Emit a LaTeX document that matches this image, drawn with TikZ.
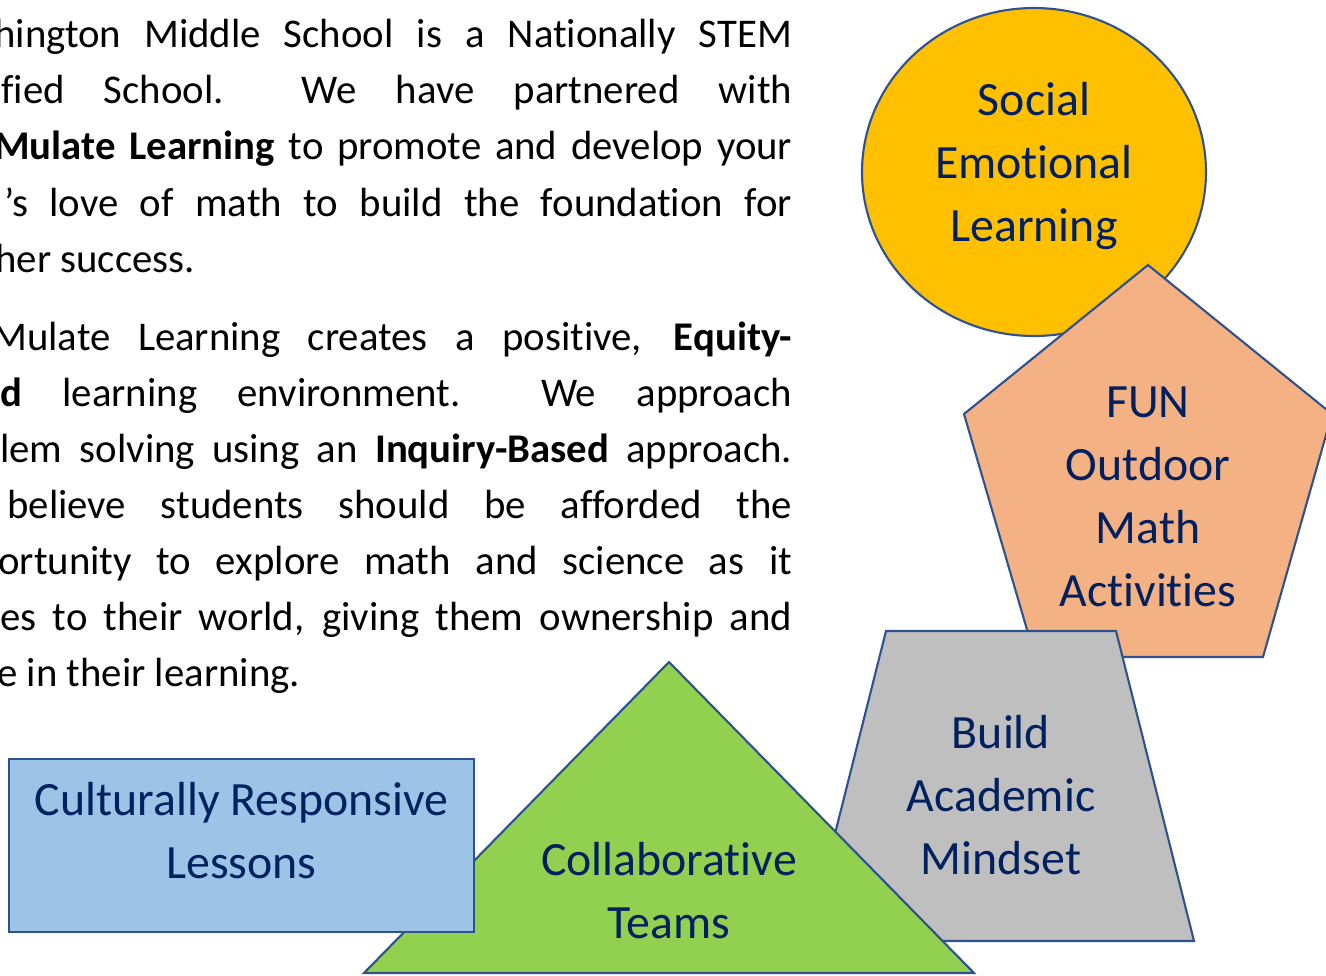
\documentclass[tikz,border=0pt]{standalone}
\usepackage{fontspec}
\setmainfont{Carlito}[Ligatures=NoCommon]
\definecolor{selyellow}{HTML}{FFC000}
\definecolor{funorange}{HTML}{F4B183}
\definecolor{mindgray}{HTML}{BFBFBF}
\definecolor{teamgreen}{HTML}{92D050}
\definecolor{lessonblue}{HTML}{9DC3E6}
\definecolor{edgeblue}{HTML}{2F528F}
\definecolor{navytext}{HTML}{002060}

\begin{document}
\begin{tikzpicture}[
		x=0.02cm, y=-0.02cm,
		blob/.style={
				draw=edgeblue,
				line width=1.2pt,
				line join=miter,
			},
		lbl/.style={
				align=center,
				text=navytext,
				inner sep=0pt,
				font=\fontsize{27.2pt}{35.8pt}\selectfont,
			},
		body/.style={
				anchor=base west,
				inner sep=0pt,
				font=\fontsize{23.2pt}{32pt}\selectfont,
			},
	]
	\useasboundingbox (0,0) rectangle (1326,975);

	% paragraphs, cut at the left margin
	\foreach \sx/\by/\txt [count=\i] in {
			-6/47/{hington Middle School is a Nationally STEM},
			1/103/{fied School.\ \ We have partnered with},
			-6/159/{\textbf{Mulate Learning} to promote and develop your},
			4/216/{’s love of math to build the foundation for},
			-8/350/{Mulate Learning creates a positive, \textbf{Equity-}},
			0/406/{\textbf{d} learning environment.\ \ We approach},
			0/462/{lem solving using an \textbf{Inquiry-Based} approach.},
			7/518/{believe students should be afforded the},
			-2/574/{ortunity to explore math and science as it},
			0/630/{es to their world, giving them ownership and}}{
			\pgfmathsetmacro\w{(792-\sx)*0.569055}
			\node[body] (line\i) at (\sx,\by) {\makebox[\w pt][s]{\txt}};
		}
	\node[body] (endone) at (-5,272) {her success.};
	\node[body] (endtwo) at (-3,686) {e in their learning.};

	% shapes, back to front
	\path[blob, fill=selyellow] (1034,172) ellipse [x radius=172, y radius=164];
	\node[lbl] (sel) at (1034,166) {Social\\Emotional\\Learning};

	\path[blob, fill=funorange] (1148,265) -- (1332,414) -- (1263,657)
		-- (1035,657) -- (964,414) -- cycle;
	\node[lbl] (fun) at (1148,497) {FUN\\Outdoor\\Math\\Activities};

	\path[blob, fill=mindgray] (886,631) -- (1116,631) -- (1194,941)
		-- (808,941) -- cycle;
	\node[lbl] (mindset) at (1001,795) {Build\\Academic\\Mindset};

	\path[blob, fill=teamgreen] (669,662) -- (974,973) -- (364,973) -- cycle;
	\node[lbl] (teams) at (669,891) {Collaborative\\Teams};

	\path[blob, fill=lessonblue] (9,759) rectangle (474,932);
	\node[lbl] (lessons) at (241.5,831) {Culturally Responsive\\Lessons};
\end{tikzpicture}
\end{document}
